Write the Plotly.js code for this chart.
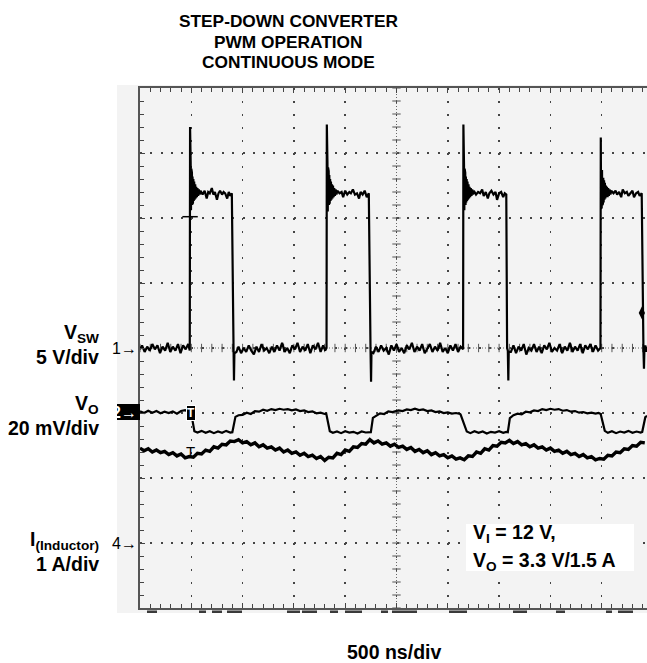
<!DOCTYPE html>
<html><head><meta charset="utf-8">
<script src="https://cdn.plot.ly/plotly-3.0.1.min.js"></script>
<style>html,body{margin:0;padding:0;background:#fff;overflow:hidden}</style>
</head><body><div id="chart" style="width:647px;height:663px"></div>
<script>
// ---------------- data ----------------
// time base: ns from the left edge of the graticule (500 ns/div)
const TITLE_LINES = ["STEP-DOWN CONVERTER", "PWM OPERATION", "CONTINUOUS MODE"];
const X_LABEL = "500 ns/div";
const CH_LABELS = [["V<sub>SW</sub>", "5 V/div"], ["V<sub>O</sub>", "20 mV/div"], ["I<sub>(Inductor)</sub>", "1 A/div"]];
const NOTE_LINES = ["V<sub>I</sub> = 12 V,", "V<sub>O</sub> = 3.3 V/1.5 A"];

// Channel 1: switch node voltage (V), 5 V/div, reference at centre line
const VSW_T = [0,20,45,70,95,120,145,170,195,220,245,270,295,320,345,370,395,420,445,470,485,
 488,491,494,497,500,503,506,509,512,516,520,524,528,533,538,543,548,554,560,567,574,582,590,
 610,630,650,665,680,700,715,730,750,765,780,800,815,830,850,865,880,895,
 905,912,916,920,
 940,960,985,1010,1035,1060,1085,1110,1135,1160,1185,1210,1235,1260,1285,1310,1335,1360,1385,1410,1435,1460,1485,1510,1535,1560,1585,1610,1635,1660,1685,1710,1735,1760,1785,1805,1818,
 1821,1824,1827,1830,1833,1836,1839,1842,1845,1849,1853,1857,1861,1866,1871,1876,1881,1887,1893,1900,1907,1915,1923,
 1945,1965,1980,2000,2020,2040,2055,2075,2095,2115,2135,2150,2170,2190,2210,2230,
 2240,2247,2252,2256,
 2275,2300,2325,2350,2375,2400,2425,2450,2475,2500,2525,2550,2575,2600,2625,2650,2675,2700,2725,2750,2775,2800,2825,2850,2875,2900,2925,2950,2975,3000,3025,3050,3075,3100,3125,3149,
 3152,3155,3158,3161,3164,3167,3170,3173,3176,3180,3184,3188,3192,3197,3202,3207,3212,3218,3224,3231,3238,3246,3254,
 3275,3295,3315,3335,3350,3370,3390,3405,3425,3445,3465,3480,3500,3520,3540,3555,3570,
 3578,3585,3590,3594,
 3615,3640,3665,3690,3715,3740,3765,3790,3815,3840,3865,3890,3915,3940,3965,3990,4015,4040,4065,4090,4115,4140,4165,4190,4215,4240,4265,4290,4315,4340,4365,4390,4415,4440,4465,4488,
 4491,4494,4497,4500,4503,4506,4509,4512,4515,4519,4523,4527,4531,4536,4541,4546,4551,4557,4563,4570,4577,4585,4593,
 4615,4635,4650,4670,4690,4705,4725,4745,4760,4780,4800,4815,4835,4855,4870,4890,
 4900,4907,4912,4916,
 4925,4935,4942];
const VSW_V = [-0.1,0.2,-0.3,0.1,-0.2,0.3,-0.1,0.2,-0.4,0.1,-0.2,0.4,-0.3,0.1,-0.2,0.3,-0.4,0.2,-0.1,0.3,-0.2,
 17.0,10.4,14.2,10.6,13.8,10.8,13.5,11.0,13.2,11.1,13.0,11.3,12.8,11.4,12.6,11.5,12.4,11.6,12.3,11.7,12.2,11.8,12.1,
 11.8,12.1,11.5,12.0,11.9,12.3,11.8,12.0,11.4,11.9,12.1,11.8,12.0,11.9,11.5,12.0,11.7,11.9,
 0.0,-0.2,-2.5,-0.4,
 -0.3,0.1,-0.4,0.0,-0.3,0.2,-0.2,-0.5,0.1,-0.3,0.3,-0.2,0.0,-0.4,0.1,-0.3,0.2,-0.2,0.4,-0.3,0.0,-0.4,0.2,-0.1,0.4,-0.3,0.1,-0.2,0.3,-0.4,0.2,-0.1,0.4,-0.3,0.2,-0.2,0.0,
 17.2,10.3,14.3,10.5,13.9,10.8,13.6,11.0,13.3,11.1,13.0,11.3,12.8,11.4,12.6,11.5,12.5,11.6,12.3,11.7,12.2,11.8,12.1,
 11.9,12.0,11.6,12.1,11.8,12.0,11.9,12.2,11.8,11.9,11.5,12.0,11.8,12.1,11.6,11.9,
 0.0,-0.2,-2.6,-0.3,
 -0.4,0.1,-0.3,0.2,-0.2,0.0,-0.5,0.2,-0.2,0.3,-0.3,0.0,-0.4,0.2,-0.1,0.4,-0.3,0.1,-0.2,0.3,-0.4,0.0,0.3,-0.3,0.1,-0.2,0.4,-0.3,0.0,-0.4,0.2,-0.2,0.3,-0.3,0.1,-0.1,
 17.2,10.5,14.1,10.6,13.8,10.9,13.5,11.0,13.2,11.2,13.0,11.3,12.8,11.4,12.6,11.5,12.4,11.6,12.3,11.7,12.2,11.8,12.1,
 11.8,12.0,11.9,12.2,11.7,12.0,11.5,11.9,12.1,11.8,12.0,11.4,11.9,12.0,11.6,11.9,11.8,
 0.0,-0.2,-2.5,-0.3,
 -0.3,0.2,-0.4,0.1,-0.2,0.3,-0.5,0.0,-0.2,0.3,-0.3,0.1,-0.4,0.2,-0.1,0.4,-0.3,0.0,-0.2,0.3,-0.4,0.1,-0.2,0.4,-0.3,0.1,-0.2,0.3,-0.4,0.2,-0.1,0.3,-0.3,0.2,-0.2,0.0,
 16.2,10.7,14.0,10.8,13.7,11.0,13.4,11.1,13.1,11.2,12.9,11.4,12.7,11.5,12.5,11.6,12.4,11.6,12.3,11.7,12.2,11.8,12.1,
 11.9,12.1,11.8,12.0,11.6,12.2,11.9,12.0,11.7,11.9,12.1,11.6,11.9,12.0,11.7,11.9,
 0.0,-0.2,-1.6,-0.2,
 0.2,-0.3,0.1];

// Channel 2: output voltage ripple (mV, AC coupled), 20 mV/div
const VO_T = [0,40,80,120,160,200,240,280,320,360,400,440,480,500,530,
 560,600,640,680,720,760,800,840,880,900,930,
 960,1000,1040,1080,1120,1160,1200,1240,1280,1320,1360,1400,1440,1480,1520,1560,1600,1640,1680,1720,1760,1800,1815,1850,
 1880,1920,1960,2000,2040,2080,2120,2160,2200,2240,2250,2270,
 2300,2340,2380,2420,2460,2520,2560,2600,2640,2680,2720,2760,2800,2840,2880,2920,2960,3000,3040,3080,3120,3125,3185,
 3220,3260,3300,3340,3380,3420,3460,3500,3540,3570,3585,3605,
 3640,3680,3720,3760,3800,3840,3880,3920,3960,4000,4040,4080,4120,4160,4200,4240,4280,4320,4360,4400,4440,4470,4490,4530,
 4560,4600,4640,4680,4720,4760,4800,4840,4880,4895,4925,4942];
const VO_MV = [0.2,-0.3,0.4,-0.2,0.3,-0.4,0.1,-0.3,0.2,-0.5,0.3,0.6,-0.2,-0.5,-5.9,
 -6.3,-5.8,-6.4,-5.9,-6.5,-6.0,-6.4,-5.8,-6.3,-6.2,-1.5,
 -1.0,-0.9,-0.2,-0.6,0.3,0.1,0.7,0.4,0.9,0.6,1.0,0.7,0.9,0.5,0.8,0.3,0.5,0.0,0.2,-0.4,-0.2,-0.6,-0.5,-5.9,
 -6.4,-6.0,-6.5,-5.9,-6.3,-6.1,-6.6,-6.0,-6.3,-6.1,-6.2,-1.8,
 -1.2,-0.4,-0.6,0.2,0.0,0.5,0.3,0.8,0.6,1.0,0.6,0.8,0.3,0.5,0.0,0.2,-0.3,-0.1,-0.5,-0.3,-0.6,-0.8,-6.0,
 -6.5,-5.9,-6.4,-6.0,-6.6,-6.1,-6.3,-5.9,-6.4,-6.1,-6.2,-1.9,
 -1.0,-0.5,-0.7,0.1,-0.1,0.5,0.3,0.9,0.6,1.0,0.7,0.9,0.4,0.6,0.1,0.3,-0.2,0.0,-0.4,-0.2,-0.5,-0.3,-0.6,-5.8,
 -6.4,-5.9,-6.5,-6.0,-6.3,-5.8,-6.4,-6.0,-6.3,-6.1,-1.6,-1.2];

// Channel 4: inductor current (A), 1 A/div
const IL_T = [0,40,80,120,160,200,240,280,320,360,400,440,480,
 520,560,600,640,680,720,760,800,840,880,920,
 960,1000,1040,1080,1120,1160,1200,1240,1280,1320,1360,1400,1440,1480,1520,1560,1600,1640,1680,1720,1760,1800,
 1840,1880,1920,1960,2000,2040,2080,2120,2160,2200,2240,
 2280,2320,2360,2400,2440,2480,2520,2560,2600,2640,2680,2720,2760,2800,2840,2880,2920,2960,3000,3040,3080,3120,
 3160,3200,3240,3280,3320,3360,3400,3440,3480,3520,3560,
 3600,3640,3680,3720,3760,3800,3840,3880,3920,3960,4000,4040,4080,4120,4160,4200,4240,4280,4320,4360,4400,4440,4480,
 4520,4560,4600,4640,4680,4720,4760,4800,4840,4880,4920];
const IL_A = [1.46,1.42,1.45,1.40,1.43,1.39,1.41,1.36,1.39,1.34,1.37,1.31,1.33,
 1.32,1.38,1.37,1.43,1.41,1.48,1.46,1.52,1.51,1.57,1.56,
 1.59,1.54,1.56,1.51,1.54,1.48,1.51,1.46,1.48,1.43,1.46,1.40,1.43,1.38,1.40,1.35,1.38,1.33,1.35,1.30,1.33,1.27,
 1.32,1.31,1.38,1.36,1.43,1.41,1.48,1.47,1.53,1.52,1.59,
 1.54,1.57,1.52,1.54,1.49,1.52,1.47,1.49,1.44,1.47,1.41,1.44,1.39,1.42,1.36,1.39,1.34,1.36,1.31,1.34,1.29,1.31,
 1.28,1.34,1.33,1.40,1.38,1.45,1.43,1.50,1.49,1.55,1.54,
 1.58,1.53,1.56,1.51,1.53,1.48,1.51,1.46,1.48,1.43,1.46,1.41,1.43,1.38,1.41,1.36,1.38,1.33,1.36,1.31,1.33,1.28,1.30,
 1.29,1.35,1.34,1.40,1.39,1.45,1.44,1.50,1.49,1.55,1.54];

// scope settings: volts/div and reference position (divisions from centre)
const CH1 = {perDiv: 5, ref: 0};
const CH2 = {perDiv: 20, ref: -0.985};
const CH4 = {perDiv: 1, ref: -3.0};
const TRIG_T = 488;            // trigger time (ns)
const TRIG_MARK_V = 10.1;      // ch1 "T" cursor (V)
const TRIG_LEVEL_V = 2.7;      // ch1 trigger level marker (V)

// ---------------- layout geometry ----------------
const W = 647, H = 663, L = 140, T = 88, B = 608, R = 647;
const NS_PER_DIV = 500;
const X_MAX = (R - L) / 51.3 * NS_PER_DIV;
const px = x => (x - L) / (R - L);
const py = y => (B - y) / (B - T);
const FONT = "Liberation Sans, Arial, sans-serif";

const toDiv = (arr, ch) => arr.map(v => v / ch.perDiv + ch.ref);

const traceStyle = (w) => ({mode: 'lines', line: {color: '#000', width: w}, hoverinfo: 'skip', showlegend: false});

// reticle minor ticks along centre lines
const cxY = [], cxX = [], chX = [], chY = [];
for (let k = -20; k <= 20; k++) { cxY.push(k * 0.2); cxX.push(2500); }
for (let k = 0; k * 100 <= X_MAX; k++) { chX.push(k * 100); chY.push(0); }

const data = [
  {x: cxX, y: cxY, type: 'scatter', mode: 'markers', marker: {symbol: 'line-ew', size: 6, line: {color: '#555', width: 1}}, hoverinfo: 'skip', showlegend: false},
  {x: chX, y: chY, type: 'scatter', mode: 'markers', marker: {symbol: 'line-ns', size: 6, line: {color: '#555', width: 1}}, hoverinfo: 'skip', showlegend: false},
  Object.assign({x: IL_T, y: toDiv(IL_A, CH4), type: 'scatter'}, traceStyle(3.4)),
  Object.assign({x: VO_T, y: toDiv(VO_MV, CH2), type: 'scatter'}, traceStyle(2.2)),
  Object.assign({x: VSW_T, y: toDiv(VSW_V, CH1), type: 'scatter'}, traceStyle(2.2)),
  {x: [TRIG_T], y: [TRIG_MARK_V / CH1.perDiv + CH1.ref], type: 'scatter', mode: 'markers', marker: {symbol: 'line-ew', size: 11, line: {color: '#000', width: 1.5}}, hoverinfo: 'skip', showlegend: false},
  {x: [X_MAX - 50], y: [TRIG_LEVEL_V / CH1.perDiv + CH1.ref], type: 'scatter', mode: 'markers', marker: {symbol: 'diamond-tall', size: 9, color: '#000'}, hoverinfo: 'skip', showlegend: false}
];

function ann(text, xp, yp, o) {
  return Object.assign({xref: 'paper', yref: 'paper', x: px(xp), y: py(yp), text: text, showarrow: false,
    xanchor: 'center', yanchor: 'middle', font: {family: FONT, size: 19.5, color: '#000', weight: 'bold'}}, o || {});
}

const annotations = [];
const TITLE_Y = [20.5, 41.5, 62];
TITLE_LINES.forEach((s, i) => annotations.push(ann(s, 288, TITLE_Y[i], {font: {family: FONT, size: 17.3, color: '#000', weight: 'bold'}})));
annotations.push(ann(X_LABEL, 394, 652));
const LABEL_Y = [[333, 357], [404, 428], [540, 564]];
CH_LABELS.forEach((pair, i) => {
  annotations.push(ann(pair[0], 101, LABEL_Y[i][0], {xanchor: 'right'}));
  annotations.push(ann(pair[1], 101, LABEL_Y[i][1], {xanchor: 'right'}));
});
annotations.push(ann(NOTE_LINES[0], 471, 533, {xanchor: 'left'}));
annotations.push(ann(NOTE_LINES[1], 471, 561, {xanchor: 'left'}));
// channel markers
const mk = {family: FONT, size: 16, color: '#000'};
annotations.push(ann("1→", 139, 348, {xanchor: 'right', font: mk}));
annotations.push(ann("2→", 139, 412, {xanchor: 'right', font: {family: FONT, size: 16, color: '#fff', weight: 'bold'}}));
annotations.push(ann("4→", 139, 543, {xanchor: 'right', font: mk}));
// trigger "T" markers
annotations.push(ann("T", 190.5, 412.5, {font: {family: FONT, size: 12, color: '#fff', weight: 'bold'}, bgcolor: '#000', bordercolor: '#fff', borderwidth: 1, borderpad: 0}));
annotations.push(ann("T", 190, 451, {font: {family: FONT, size: 15, color: '#000'}}));

// clipped tops of the scope's status read-out just below the graticule
const READOUT_X = [[147, 157], [199, 206], [212, 222], [227, 242], [287, 300], [302, 317], [330, 338], [345, 362], [381, 388], [392, 417], [449, 467], [513, 527], [556, 565], [606, 612], [618, 633]];
const shapes = [
  {type: 'rect', xref: 'paper', yref: 'paper', x0: px(117), x1: px(647), y0: py(613), y1: py(85), fillcolor: '#f3f3f3', line: {width: 0}, layer: 'below'},
  {type: 'line', xref: 'x', yref: 'y', x0: 0, x1: X_MAX, y0: 0, y1: 0, line: {color: '#666', width: 1, dash: '1px,2px'}, layer: 'below'},
  {type: 'line', xref: 'x', yref: 'y', x0: 2500, x1: 2500, y0: -4, y1: 4, line: {color: '#666', width: 1, dash: '1px,2px'}, layer: 'below'},
  {type: 'rect', xref: 'paper', yref: 'paper', x0: px(466), x1: px(634), y0: py(571), y1: py(524), fillcolor: '#fff', line: {width: 0}, layer: 'above'},
  {type: 'rect', xref: 'paper', yref: 'paper', x0: px(117), x1: px(140), y0: py(420), y1: py(404), fillcolor: '#000', line: {width: 0}, layer: 'above'}
];
READOUT_X.forEach(([a, b]) => shapes.push({type: 'rect', xref: 'paper', yref: 'paper', x0: px(a), x1: px(b), y0: py(613), y1: py(610.5), fillcolor: '#3a3a3a', line: {width: 0}, layer: 'above'}));

const layout = {
  width: W, height: H, autosize: false,
  margin: {l: L, r: W - R, t: T, b: H - B, pad: 0},
  paper_bgcolor: '#fff', plot_bgcolor: '#f3f3f3',
  showlegend: false,
  xaxis: {range: [0, X_MAX], tick0: 0, dtick: 500, showticklabels: false, ticks: 'inside', ticklen: 5, tickcolor: '#444', tickwidth: 1,
    showgrid: true, gridcolor: '#444', gridwidth: 1.5, griddash: '2px,11px',
    minor: {dtick: 100, ticks: 'inside', ticklen: 4, tickcolor: '#444', showgrid: false},
    showline: true, linecolor: '#555', linewidth: 2, mirror: 'allticks', zeroline: false, fixedrange: true},
  yaxis: {range: [-4, 4], tick0: 0, dtick: 1, showticklabels: false, ticks: 'inside', ticklen: 5, tickcolor: '#444', tickwidth: 1,
    showgrid: true, gridcolor: '#444', gridwidth: 1.5, griddash: '2px,8.26px',
    minor: {dtick: 0.2, ticks: 'inside', ticklen: 4, tickcolor: '#444', showgrid: false},
    showline: true, linecolor: '#555', linewidth: 2, mirror: false, zeroline: false, fixedrange: true},
  shapes: shapes,
  annotations: annotations
};

Plotly.newPlot('chart', data, layout, {staticPlot: true, displayModeBar: false});
</script></body></html>
